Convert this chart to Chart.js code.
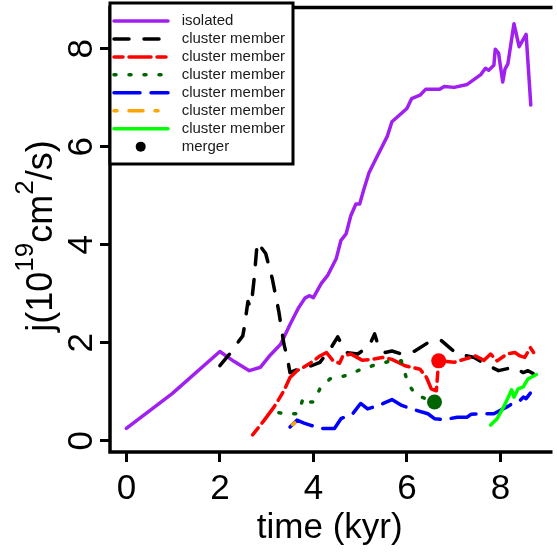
<!DOCTYPE html>
<html>
<head>
<meta charset="utf-8">
<script src="https://cdn.jsdelivr.net/npm/chart.js@4.4.0/dist/chart.umd.min.js"></script>
<style>
  body { margin: 0; background: #fff; }
  canvas { display: block; }
</style>
</head>
<body>
<canvas id="graficoJ" width="557" height="552"></canvas>
<script>
// valores (tempo em kyr, j em 1e19 cm^2/s)
const isolatedT = [0, 0.98, 2.0, 2.3, 2.63, 2.87, 3.08, 3.3, 3.5, 3.68, 3.82, 3.91, 4.0, 4.17, 4.31, 4.49, 4.59, 4.7, 4.8, 4.91, 4.99, 5.08, 5.19, 5.33, 5.58, 5.68, 6.0, 6.1, 6.28, 6.4, 6.7, 6.8, 7.01, 7.29, 7.58, 7.68, 7.75, 7.86, 7.89, 7.96, 8.05, 8.1, 8.16, 8.29, 8.4, 8.55, 8.65];
const isolatedJ = [0.25, 0.96, 1.82, 1.62, 1.43, 1.5, 1.75, 1.97, 2.37, 2.71, 2.91, 2.96, 2.92, 3.21, 3.38, 3.72, 4.09, 4.22, 4.59, 4.83, 4.83, 5.13, 5.47, 5.74, 6.21, 6.51, 6.78, 6.98, 7.05, 7.17, 7.17, 7.23, 7.21, 7.27, 7.47, 7.6, 7.56, 7.66, 7.99, 7.91, 7.32, 7.59, 7.69, 8.51, 8.04, 8.29, 6.85];

const blackT = [2.0, 2.21, 2.38, 2.49, 2.52, 2.6, 2.65, 2.68, 2.73, 2.8, 2.98, 3.12, 3.26, 3.37, 3.44, 3.5, 3.65, 3.8, 3.96, 4.14, 4.38, 4.52, 4.7, 4.95, 5.19, 5.31, 5.4, 5.54, 5.68, 5.89, 6.17, 6.45, 6.73, 6.95, 7.08, 7.44, 7.68, 7.96, 8.28, 8.49, 8.59, 8.7];
const blackJ = [1.53, 1.77, 2.0, 2.14, 2.3, 2.84, 2.74, 2.84, 3.28, 4.05, 3.82, 3.31, 2.64, 1.97, 1.7, 1.39, 1.45, 1.5, 1.53, 1.6, 1.9, 2.12, 1.8, 1.77, 1.93, 2.18, 1.9, 1.8, 1.83, 1.77, 1.83, 2.0, 2.05, 1.87, 1.77, 1.7, 1.56, 1.43, 1.5, 1.39, 1.43, 1.37];

const redT = [2.7, 2.95, 3.16, 3.37, 3.5, 3.65, 3.79, 3.96, 4.14, 4.28, 4.42, 4.56, 4.63, 4.8, 5.05, 5.26, 5.47, 5.68, 5.96, 6.28, 6.42, 6.52, 6.63, 6.66, 6.68, 7.01, 7.22, 7.47, 7.65, 7.79, 7.93, 8.14, 8.31, 8.42, 8.52, 8.64, 8.71];
const redJ = [0.12, 0.42, 0.69, 1.02, 1.29, 1.43, 1.5, 1.6, 1.73, 1.8, 1.63, 1.58, 1.73, 1.77, 1.64, 1.66, 1.7, 1.66, 1.53, 1.46, 1.29, 1.06, 1.02, 1.39, 1.63, 1.6, 1.66, 1.73, 1.64, 1.77, 1.63, 1.77, 1.8, 1.73, 1.7, 1.9, 1.8];

const dgreenT = [3.26, 3.47, 3.65, 3.72, 3.79, 3.86, 3.93, 4.0, 4.14, 4.35, 4.7, 4.98, 5.26, 5.54, 5.75, 5.88, 5.93, 6.03, 6.17, 6.31, 6.59];
const dgreenJ = [0.57, 0.55, 0.55, 0.69, 0.89, 0.85, 0.79, 0.79, 1.06, 1.26, 1.33, 1.44, 1.53, 1.6, 1.64, 1.63, 1.46, 1.16, 0.96, 0.89, 0.79];

const blueT = [3.5, 3.65, 3.8, 3.93, 4.14, 4.45, 4.59, 4.84, 5.01, 5.16, 5.4, 5.68, 5.89, 6.1, 6.45, 6.59, 6.8, 7.08, 7.29, 7.37, 7.58, 7.86, 8.14, 8.31, 8.42, 8.49, 8.55, 8.64];
const blueJ = [0.28, 0.42, 0.36, 0.32, 0.25, 0.25, 0.45, 0.55, 0.76, 0.65, 0.72, 0.84, 0.72, 0.65, 0.55, 0.45, 0.43, 0.48, 0.48, 0.54, 0.55, 0.55, 0.69, 0.79, 0.82, 0.89, 0.86, 0.97];

const orangeT = [3.55, 3.62, 3.68];
const orangeJ = [0.33, 0.38, 0.35];

const greenT = [7.79, 7.93, 8.07, 8.17, 8.24, 8.29, 8.38, 8.49, 8.59, 8.77];
const greenJ = [0.32, 0.45, 0.69, 0.89, 1.04, 0.89, 1.06, 1.1, 1.26, 1.35];

const mergerT = [6.68, 6.59];
const mergerJ = [1.63, 0.79];
const mergerCores = ["#FF0000", "#006400"];

const xTicks = [0, 2, 4, 6, 8];
const yTicks = [0, 2, 4, 6, 8];

const fonte = '"Liberation Sans", Arial, sans-serif';

function pares(t, j) {
    return t.map((v, i) => ({ x: v, y: j[i] }));
}

function serie(label, t, j, cor, dash, ordem) {
    return {
        label: label,
        data: pares(t, j),
        borderColor: cor,
        borderWidth: 3.5,
        borderDash: dash,
        borderCapStyle: "round",
        borderJoinStyle: "round",
        pointRadius: 0,
        fill: false,
        tension: 0,
        order: ordem,
    };
}

const datasets = [
    serie("isolated", isolatedT, isolatedJ, "#A020F0", [], 8),
    serie("cluster member", blackT, blackJ, "#000000", [15, 15], 7),
    serie("cluster member", redT, redJ, "#FF0000", [9, 6, 22, 6], 6),
    serie("cluster member", dgreenT, dgreenJ, "#006400", [2, 13], 5),
    serie("cluster member", blueT, blueJ, "#0000FF", [26, 11], 4),
    serie("cluster member", orangeT, orangeJ, "#FFA500", [3, 12, 14, 12], 3),
    serie("cluster member", greenT, greenJ, "#00FF00", [], 2),
    {
        label: "merger",
        type: "scatter",
        data: pares(mergerT, mergerJ),
        pointRadius: 7.5,
        pointBackgroundColor: mergerCores,
        pointBorderColor: mergerCores,
        pointBorderWidth: 0,
        showLine: false,
        order: 0,
    },
];

// moldura, rotulos do eixo y, titulo do eixo y e legenda
const extras = {
    id: "extras",
    afterDraw(chart) {
        const ctx = chart.ctx;
        const a = chart.chartArea;
        const y = chart.scales.y;
        ctx.save();

        ctx.strokeStyle = "#000";
        ctx.lineWidth = 3.5;
        ctx.beginPath();
        ctx.moveTo(a.right + 3, a.top);
        ctx.lineTo(a.left, a.top);
        ctx.lineTo(a.left, a.bottom);
        ctx.lineTo(a.right + 3, a.bottom);
        ctx.stroke();

        ctx.fillStyle = "#000";
        ctx.font = "35px " + fonte;
        ctx.textAlign = "center";
        ctx.textBaseline = "alphabetic";
        yTicks.forEach(function (v) {
            ctx.save();
            ctx.translate(92, y.getPixelForValue(v));
            ctx.rotate(-Math.PI / 2);
            ctx.fillText(String(v), 0, 0);
            ctx.restore();
        });

        // titulo com expoentes
        const partes = [
            { t: "j(10", sup: false },
            { t: "19", sup: true },
            { t: "cm", sup: false },
            { t: "2", sup: true },
            { t: "/s)", sup: false },
        ];
        const fNormal = "36px " + fonte;
        const fSup = "26px " + fonte;
        let total = 0;
        partes.forEach(function (p) {
            ctx.font = p.sup ? fSup : fNormal;
            p.w = ctx.measureText(p.t).width;
            total += p.w;
        });
        ctx.save();
        ctx.translate(52, 236);
        ctx.rotate(-Math.PI / 2);
        ctx.textAlign = "left";
        let px = -total / 2;
        partes.forEach(function (p) {
            ctx.font = p.sup ? fSup : fNormal;
            ctx.fillText(p.t, px, p.sup ? -19 : 0);
            px += p.w;
        });
        ctx.restore();

        // legenda
        ctx.fillStyle = "#fff";
        ctx.fillRect(110, 3, 183, 161);
        ctx.lineWidth = 3;
        ctx.strokeStyle = "#000";
        ctx.strokeRect(110, 3, 183, 161);
        ctx.font = "15px " + fonte;
        ctx.textAlign = "left";
        ctx.textBaseline = "middle";
        chart.data.datasets.forEach(function (ds, i) {
            const ly = 21 + i * 17.95;
            if (ds.showLine === false) {
                ctx.fillStyle = "#000";
                ctx.beginPath();
                ctx.arc(140.7, ly, 5, 0, Math.PI * 2);
                ctx.fill();
            } else {
                ctx.strokeStyle = ds.borderColor;
                ctx.lineWidth = ds.borderWidth;
                ctx.lineCap = "round";
                ctx.setLineDash(ds.borderDash);
                ctx.beginPath();
                ctx.moveTo(114, ly);
                ctx.lineTo(168, ly);
                ctx.stroke();
                ctx.setLineDash([]);
            }
            ctx.fillStyle = "#1a1a1a";
            ctx.fillText(ds.label, 181.7, ly);
        });

        ctx.restore();
    },
};

const eixoGrade = {
    display: true,
    drawOnChartArea: false,
    drawTicks: true,
    tickLength: 10,
    tickWidth: 3,
    tickColor: "#000",
    color: "#000",
};

new Chart(document.getElementById("graficoJ").getContext("2d"), {
    type: "line",
    data: { datasets: datasets },
    options: {
        responsive: false,
        animation: false,
        devicePixelRatio: 1,
        layout: { padding: { top: 2, right: 0, bottom: 0, left: 0 } },
        plugins: {
            legend: { display: false },
            tooltip: { enabled: false },
        },
        scales: {
            x: {
                type: "linear",
                min: -0.35,
                max: 9.05,
                afterBuildTicks: function (s) {
                    s.ticks = xTicks.map((v) => ({ value: v }));
                },
                afterFit: function (s) {
                    s.height = 100;
                },
                grid: eixoGrade,
                border: { display: false },
                ticks: {
                    color: "#000",
                    font: { family: fonte, size: 35 },
                    padding: 6,
                    maxRotation: 0,
                },
                title: {
                    display: true,
                    text: "time (kyr)",
                    color: "#000",
                    font: { family: fonte, size: 35 },
                    padding: { top: 0, bottom: 3 },
                },
            },
            y: {
                type: "linear",
                min: -0.23,
                max: 8.84,
                afterBuildTicks: function (s) {
                    s.ticks = yTicks.map((v) => ({ value: v }));
                },
                afterFit: function (s) {
                    s.width = 110;
                },
                grid: eixoGrade,
                border: { display: false },
                ticks: { display: false },
            },
        },
    },
    plugins: [extras],
});
</script>
</body>
</html>
